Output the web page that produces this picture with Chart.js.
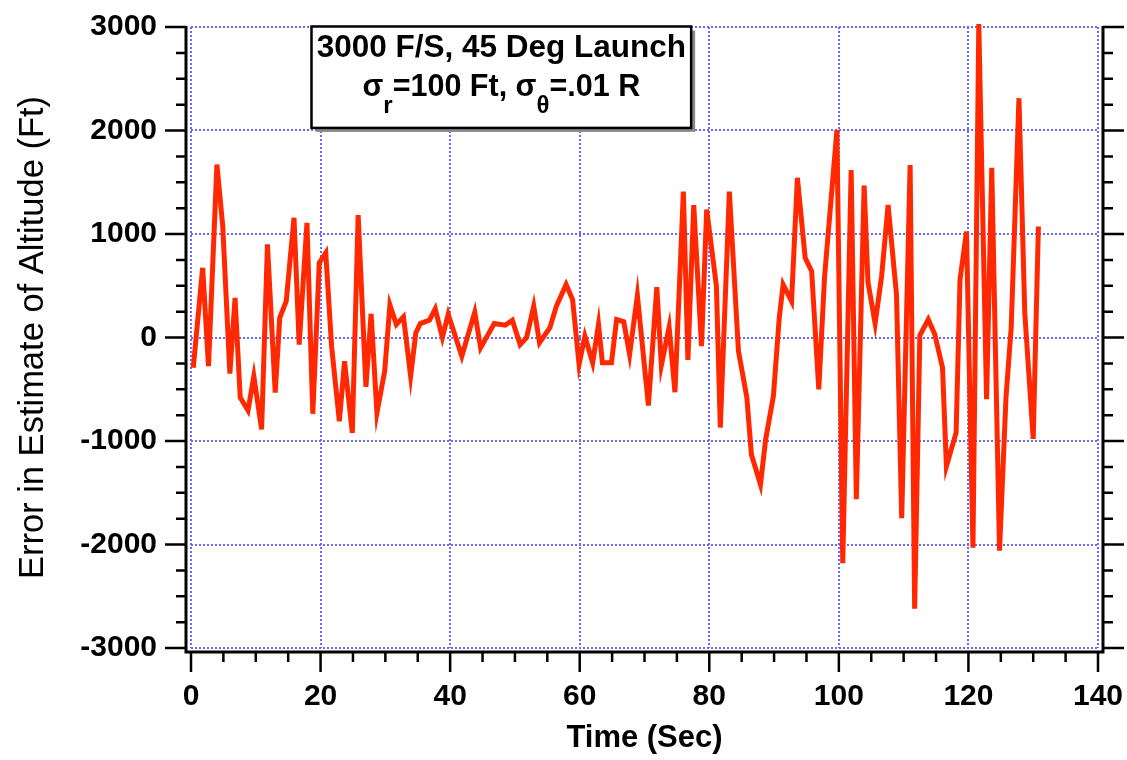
<!DOCTYPE html>
<html>

<head>
  <title>Error in Estimate of Altitude</title>
  <script src="https://cdn.jsdelivr.net/npm/chart.js"></script>
  <style>
    body { margin: 0; background: #fff; }
  </style>
</head>

<body>
  <canvas id="altChart" width="1127" height="760"></canvas>
  <script>
    // values (time in sec, error in ft)
    const timeSec = [0.35, 1.8, 2.7, 4.0, 4.9, 6.0, 6.8, 7.6, 8.8, 9.7,
      10.9, 11.8, 13.0, 13.7, 14.7, 15.9, 16.7, 17.9, 18.8, 19.8,
      20.8, 21.7, 22.9, 23.7, 24.9, 25.8, 27.0, 27.8, 28.7, 29.9,
      30.7, 31.7, 32.8, 33.9, 34.7, 35.4, 36.8, 37.7, 38.8, 39.7,
      41.8, 43.8, 44.7, 46.8, 48.5, 49.6, 50.8, 51.8, 52.9, 53.8,
      55.4, 56.4, 57.9, 58.9, 59.9, 60.8, 62.0, 62.9, 63.5, 64.9,
      65.7, 66.8, 67.7, 68.9, 70.6, 71.9, 72.6, 73.8, 74.7, 76.0,
      76.7, 77.6, 78.8, 79.6, 81.1, 81.7, 83.1, 84.5, 85.8, 86.5,
      87.9, 88.7, 89.9, 90.8, 91.4, 92.7, 93.6, 94.8, 95.8, 96.9,
      97.8, 99.7, 100.6, 101.9, 102.7, 103.9, 104.5, 105.6, 106.6, 107.6,
      108.9, 109.7, 111.0, 111.7, 112.5, 113.8, 114.8, 116.0, 116.6, 118.1,
      118.7, 119.7, 120.7, 121.6, 122.8, 123.6, 124.8, 125.8, 126.6, 127.8,
      128.7, 130.0, 130.8];
    const altErrFt = [-293, 673, -277, 1671, 1075, -348, 383, -580, -705, -374,
      -889, 899, -532, 190, 351, 1157, -68, 1108, -737, 722,
      818, -84, -809, -229, -921, 1182, -477, 229, -728, -323,
      314, 126, 200, -374, 45, 135, 167, 277, 0, 225,
      -181, 245, -100, 135, 119, 167, -68, 0, 303, -51,
      94, 303, 512, 367, -261, 13, -245, 126, -245, -245,
      174, 152, -164, 406, -657, 486, -268, 100, -529, 1410,
      -217, 1280, -84, 1237, 495, -870, 1410, -130, -580, -1130,
      -1420, -985, -565, 190, 512, 351, 1543, 770, 641, -502,
      592, 2005, -2180, 1618, -1562, 1468, 531, 135, 592, 1280,
      411, -1745, 1667, -2620, 20, 174, 32, -291, -1243, -919,
      559, 1024, -2032, 3028, -595, 1640, -2060, -575, 93, 2312,
      235, -980, 1073];

    const xTicks = [0, 20, 40, 60, 80, 100, 120, 140];
    const yTicks = [-3000, -2000, -1000, 0, 1000, 2000, 3000];

    const noteLine1 = '3000 F/S, 45 Deg Launch';
    // [text, isSubscript]
    const noteLine2 = [['σ', false], ['r', true], ['=100 Ft, σ', false], ['θ', true], ['=.01 R', false]];

    const FONT = '"Liberation Sans", Arial, Helvetica, sans-serif';
    const gridBlue = 'rgb(105,105,255)';

    // black axis lines sit a few px outside the plot area, with major/minor ticks
    const frameAxes = {
      id: 'frameAxes',
      afterDraw(chart) {
        const { ctx, chartArea: a, scales: { x, y } } = chart;
        const lx = a.left - 5, rx = a.right + 5, by = a.bottom + 4;
        ctx.save();
        ctx.strokeStyle = '#000';
        ctx.lineWidth = 3;
        ctx.beginPath();
        ctx.moveTo(lx, a.top - 1);
        ctx.lineTo(lx, by);
        ctx.lineTo(rx, by);
        ctx.lineTo(rx, a.top - 1);
        ctx.stroke();
        ctx.lineWidth = 2.5;
        ctx.beginPath();
        for (let v = y.min; v <= y.max; v += 250) {
          const py = y.getPixelForValue(v);
          const len = v % 1000 === 0 ? 21 : 10;
          ctx.moveTo(lx - len, py); ctx.lineTo(lx, py);
          ctx.moveTo(rx, py); ctx.lineTo(rx + len, py);
        }
        for (let v = x.min; v <= x.max; v += 5) {
          const px = x.getPixelForValue(v);
          const len = v % 20 === 0 ? 20 : 10;
          ctx.moveTo(px, by); ctx.lineTo(px, by + len);
        }
        ctx.stroke();
        ctx.restore();
      }
    };

    // text box in the upper left of the plot
    const noteBox = {
      id: 'noteBox',
      afterDraw(chart, args, opts) {
        const { ctx, scales: { x, y } } = chart;
        const l = x.getPixelForValue(opts.t0), r = x.getPixelForValue(opts.t1);
        const t = y.getPixelForValue(opts.a0), b = y.getPixelForValue(opts.a1);
        ctx.save();
        ctx.fillStyle = '#8a8a8a';
        ctx.fillRect(l + 4, t + 4, r - l, b - t);
        ctx.fillStyle = '#fff';
        ctx.fillRect(l, t, r - l, b - t);
        ctx.lineWidth = 2.5;
        ctx.strokeStyle = '#000';
        ctx.strokeRect(l, t, r - l, b - t);

        const cx = (l + r) / 2;
        ctx.fillStyle = '#000';
        ctx.textBaseline = 'alphabetic';
        ctx.textAlign = 'center';
        ctx.font = 'bold 31.5px ' + FONT;
        ctx.fillText(noteLine1, cx, t + 31);

        const mainFont = 'bold 30.5px ' + FONT, subFont = 'bold 24px ' + FONT;
        let total = 0;
        noteLine2.forEach(([s, sub]) => {
          ctx.font = sub ? subFont : mainFont;
          total += ctx.measureText(s).width;
        });
        ctx.textAlign = 'left';
        let px = cx - total / 2;
        const base = t + 70;
        noteLine2.forEach(([s, sub]) => {
          ctx.font = sub ? subFont : mainFont;
          ctx.fillText(s, px, sub ? base + 17 : base);
          px += ctx.measureText(s).width;
        });
        ctx.restore();
      }
    };

    const noOverflow = s => { s.paddingTop = 0; s.paddingBottom = 0; s.paddingLeft = 0; s.paddingRight = 0; };

    const ctx = document.getElementById('altChart').getContext('2d');
    Chart.defaults.font.family = FONT;
    Chart.defaults.color = '#000';

    const chart = new Chart(ctx, {
      type: 'line',
      data: {
        datasets: [{
          label: 'Altitude error',
          data: timeSec.map((t, i) => ({ x: t, y: altErrFt[i] })),
          borderColor: 'rgb(255,40,0)',
          borderWidth: 5,
          borderJoinStyle: 'miter',
          pointRadius: 0,
          tension: 0,
          fill: false,
          clip: false
        }]
      },
      options: {
        responsive: false,
        animation: false,
        layout: { padding: { top: 27, right: 29, left: 0, bottom: 0 } },
        plugins: {
          legend: { display: false },
          tooltip: { enabled: false },
          noteBox: { t0: 18.6, t1: 77.2, a0: 3005, a1: 2025 }
        },
        scales: {
          x: {
            type: 'linear',
            min: 0,
            max: 140,
            afterBuildTicks: s => { s.ticks = xTicks.map(v => ({ value: v })); },
            afterFit: s => { s.height = 112; noOverflow(s); },
            grid: { color: gridBlue, lineWidth: 2, drawTicks: false },
            border: { display: false, dash: [2, 2] },
            ticks: {
              font: { size: 30, weight: 'bold' },
              padding: 31,
              maxRotation: 0,
              autoSkip: false,
              callback: v => String(v)
            },
            title: {
              display: true,
              text: 'Time (Sec)',
              font: { size: 31, weight: 'bold' },
              padding: { top: 0, bottom: 3 }
            }
          },
          y: {
            min: -3000,
            max: 3000,
            afterBuildTicks: s => { s.ticks = yTicks.map(v => ({ value: v })); },
            afterFit: s => { s.width = 191; noOverflow(s); },
            grid: { color: gridBlue, lineWidth: 2, drawTicks: false },
            border: { display: false, dash: [2, 2] },
            ticks: {
              font: { size: 30, weight: 'bold' },
              padding: 34,
              autoSkip: false,
              callback: v => String(v)
            },
            title: {
              display: true,
              text: 'Error in Estimate of Altitude (Ft)',
              font: { size: 34.5, weight: 'normal' },
              padding: { top: 13, bottom: 0 }
            }
          }
        }
      },
      plugins: [frameAxes, noteBox]
    });
  </script>
</body>

</html>
